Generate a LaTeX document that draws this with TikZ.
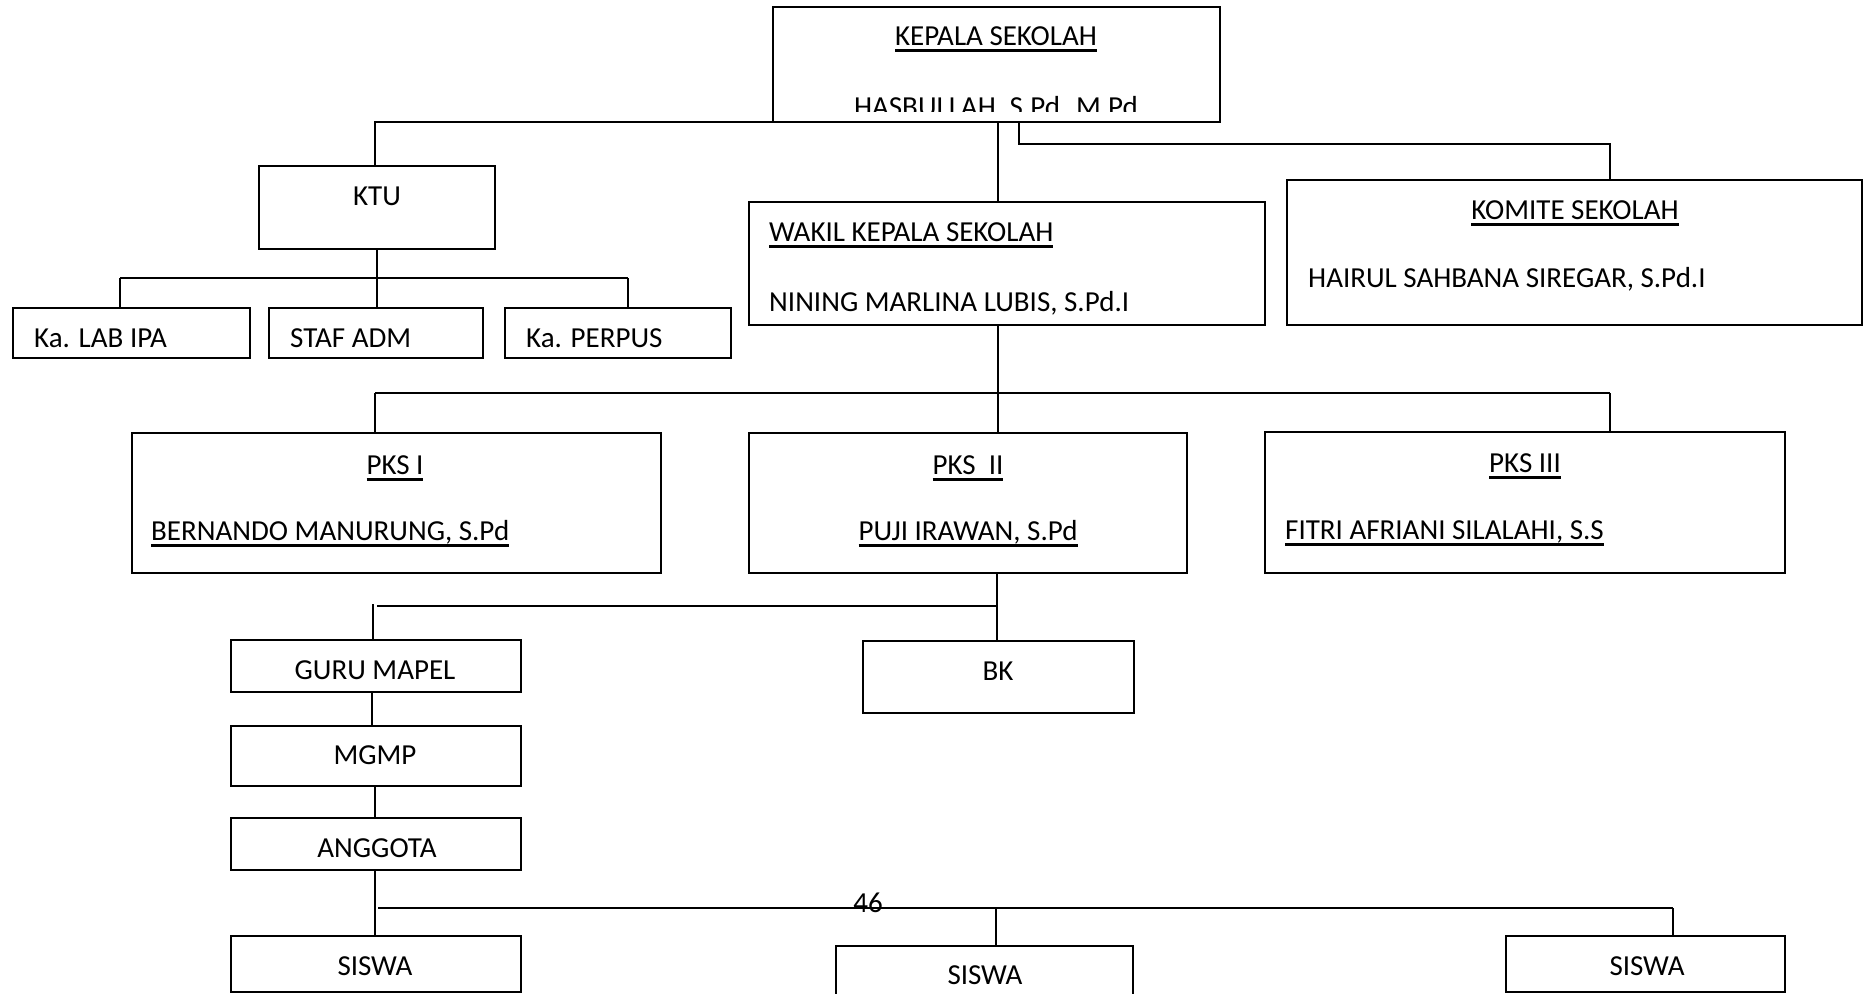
\documentclass[tikz,border=0pt]{standalone}
\usepackage{fontspec}
\setmainfont{Carlito}
\newcommand{\myul}[1]{\setbox0\hbox{#1}\rlap{\rule[-7pt]{\wd0}{2.6pt}}\box0}
\begin{document}
\begin{tikzpicture}[x=1pt,y=-1pt,
  box/.style={draw, line width=2pt, inner sep=0pt, outer sep=0pt, anchor=north west},
  conn/.style={line width=1.6pt},
  txt/.style={inner sep=0pt, anchor=base, font=\fontsize{29}{34}\selectfont},
  txtl/.style={txt, anchor=base west}]
\useasboundingbox (0,0) rectangle (1868,993);
\clip (0,0) rectangle (1868,993);
% boxes
\node[box, minimum width=447pt, minimum height=115pt] (kepala) at (773,7) {};
\node[box, minimum width=236pt, minimum height=83pt] (ktu) at (259,166) {};
\node[box, minimum width=237pt, minimum height=50pt] (lab) at (13,308) {};
\node[box, minimum width=214pt, minimum height=50pt] (staf) at (269,308) {};
\node[box, minimum width=226pt, minimum height=50pt] (perpus) at (505,308) {};
\node[box, minimum width=516pt, minimum height=123pt] (wakil) at (749,202) {};
\node[box, minimum width=575pt, minimum height=145pt] (komite) at (1287,180) {};
\node[box, minimum width=529pt, minimum height=140pt] (pksa) at (132,433) {};
\node[box, minimum width=438pt, minimum height=140pt] (pksb) at (749,433) {};
\node[box, minimum width=520pt, minimum height=141pt] (pksc) at (1265,432) {};
\node[box, minimum width=290pt, minimum height=52pt] (guru) at (231,640) {};
\node[box, minimum width=271pt, minimum height=72pt] (bk) at (863,641) {};
\node[box, minimum width=290pt, minimum height=60pt] (mgmp) at (231,726) {};
\node[box, minimum width=290pt, minimum height=52pt] (anggota) at (231,818) {};
\node[box, minimum width=290pt, minimum height=56pt] (siswaa) at (231,936) {};
\node[box, minimum width=297pt, minimum height=70pt] (siswab) at (836,946) {};
\node[box, minimum width=279pt, minimum height=56pt] (siswac) at (1506,936) {};
% texts
\node[txt] (tkepala) at (996,45) {\myul{KEPALA SEKOLAH}};
\begin{scope}
\clip (773,7) rectangle (1220,111);
\node[txt] (tkname) at (996,116) {HASBULLAH, S.Pd. M.Pd};
\end{scope}
\node[txt] (tktu) at (377,205) {KTU};
\node[txtl] (tlab) at (34,347) {Ka. LAB IPA};
\node[txtl] (tstaf) at (290,347) {STAF ADM};
\node[txtl] (tperpus) at (526,347) {Ka. PERPUS};
\node[txtl] (twakil) at (769,241) {\myul{WAKIL KEPALA SEKOLAH}};
\node[txtl] (twname) at (769,311) {NINING MARLINA LUBIS, S.Pd.I};
\node[txt] (tkomite) at (1575,219) {\myul{KOMITE SEKOLAH}};
\node[txtl] (tkoname) at (1308,287) {HAIRUL SAHBANA SIREGAR, S.Pd.I};
\node[txt] (tpksa) at (395,474) {\myul{PKS I}};
\node[txtl] (tpksaname) at (151,540) {\myul{BERNANDO MANURUNG, S.Pd}};
\node[txt] (tpksb) at (968,474) {\myul{PKS\ \ II}};
\node[txt] (tpksbname) at (968,540) {\myul{PUJI IRAWAN, S.Pd}};
\node[txt] (tpksc) at (1525,472) {\myul{PKS III}};
\node[txtl] (tpkscname) at (1285,539) {\myul{FITRI AFRIANI SILALAHI, S.S}};
\node[txt] (tguru) at (375,679) {GURU MAPEL};
\node[txt] (tmgmp) at (375,764) {MGMP};
\node[txt] (tanggota) at (377,857) {ANGGOTA};
\node[txt] (tbk) at (998,680) {BK};
\node[txt] (tpage) at (868,912) {46};
\node[txt] (tsiswaa) at (375,975) {SISWA};
\node[txt] (tsiswab) at (985,984) {SISWA};
\node[txt] (tsiswac) at (1647,975) {SISWA};
% junction coordinates
\coordinate (ja) at (375,122);
\coordinate (jb) at (998,122);
\coordinate (jc) at (1019,122);
\coordinate (jc2) at (1019,144);
\coordinate (jc3) at (1610,144);
\coordinate (ktubus) at (377,278);
\coordinate (labbus) at (120,278);
\coordinate (perbus) at (628,278);
\coordinate (wdrop) at (998,325);
\coordinate (wbus) at (998,393);
\coordinate (pabus) at (375,393);
\coordinate (pcbus) at (1610,393);
\coordinate (pbdrop) at (997,573);
\coordinate (pbbus) at (997,606);
\coordinate (gbus) at (377,606);
\coordinate (gtop) at (373,604);
\coordinate (gm) at (372,692);
\coordinate (ma) at (375,786);
\coordinate (adrop) at (375,870);
\coordinate (abus) at (378,908);
\coordinate (bbus) at (996,908);
\coordinate (cbus) at (1673,908);
% connectors
\draw[conn] (kepala.south west) -- (ja) -- (ja |- ktu.north);
\draw[conn] (jb) -- (jb |- wakil.north);
\draw[conn] (jc) -- (jc2) -- (jc3) -- (jc3 |- komite.north);
\draw[conn] (ktu.south -| ktubus) -- (ktubus |- staf.north);
\draw[conn] (labbus) -- (perbus);
\draw[conn] (labbus) -- (labbus |- lab.north);
\draw[conn] (perbus) -- (perbus |- perpus.north);
\draw[conn] (wdrop) -- (wdrop |- pksb.north);
\draw[conn] (pabus) -- (pcbus);
\draw[conn] (pabus) -- (pabus |- pksa.north);
\draw[conn] (pcbus) -- (pcbus |- pksc.north);
\draw[conn] (pbdrop) -- (pbdrop |- bk.north);
\draw[conn] (gbus) -- (pbbus);
\draw[conn] (gtop) -- (gtop |- guru.north);
\draw[conn] (gm) -- (gm |- mgmp.north);
\draw[conn] (ma) -- (ma |- anggota.north);
\draw[conn] (adrop) -- (adrop |- siswaa.north);
\draw[conn] (abus) -- (cbus);
\draw[conn] (bbus) -- (bbus |- siswab.north);
\draw[conn] (cbus) -- (cbus |- siswac.north);
\end{tikzpicture}
\end{document}
